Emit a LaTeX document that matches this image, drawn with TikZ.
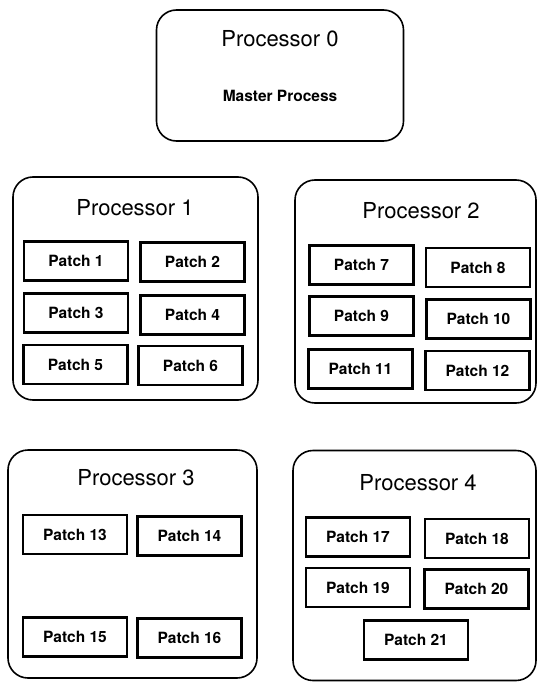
\documentclass[tikz,border=0pt]{standalone}
\usepackage{fontspec}
\setmainfont{TeX Gyre Heros}
\usepackage{tikz}
\usetikzlibrary{positioning}

\begin{document}
\begin{tikzpicture}[
    x=1pt, y=-1pt,
    proc/.style={draw, rounded corners=20pt, line width=1.6pt, inner sep=0pt},
    title/.style={anchor=base, font=\fontsize{22}{24}\selectfont},
    patch/.style={draw, line width=2.2pt, minimum width=104pt, minimum height=39pt, inner sep=0pt, font=\fontsize{15.5}{17}\selectfont\bfseries},
]
    \useasboundingbox (0,0) rectangle (538,682);

    % processor boxes
    \node[proc, minimum width=247pt, minimum height=131pt] (proc0) at (280,75.5) {};
    \node[proc, minimum width=245pt, minimum height=223pt] (proc1) at (135.5,288.5) {};
    \node[proc, minimum width=241pt, minimum height=223pt] (proc2) at (415.5,291.5) {};
    \node[proc, minimum width=249pt, minimum height=228pt] (proc3) at (132.5,564) {};
    \node[proc, minimum width=243pt, minimum height=230pt] (proc4) at (414.5,565.5) {};

    % titles
    \node[title] (t0) at (280,47) {Processor 0};
    \node[anchor=base, font=\fontsize{15.5}{17}\selectfont\bfseries] (master) at (280,102) {Master Process};
    \node[title] (t1) at (135,215) {Processor 1};
    \node[title] (t2) at (421,218) {Processor 2};
    \node[title] (t3) at (136,485) {Processor 3};
    \node[title] (t4) at (418,490) {Processor 4};

    % patches
    \foreach \n/\x/\y in {1/76/261, 2/192.5/262, 3/76/313, 4/192.5/315, 5/75.5/364.5, 6/190.5/365.5,
        7/361.5/265, 8/478/267.5, 9/361.5/316, 10/478.5/319, 11/360.5/369, 12/477.5/370.5,
        13/75/534.5, 14/189.5/536, 15/75/637, 16/189.5/638,
        17/358/537, 18/477/538.5, 19/358/587.5, 20/476.5/589, 21/416/640}
        \node[patch] (patch\n) at (\x,\y) {Patch \n};
\end{tikzpicture}
\end{document}
